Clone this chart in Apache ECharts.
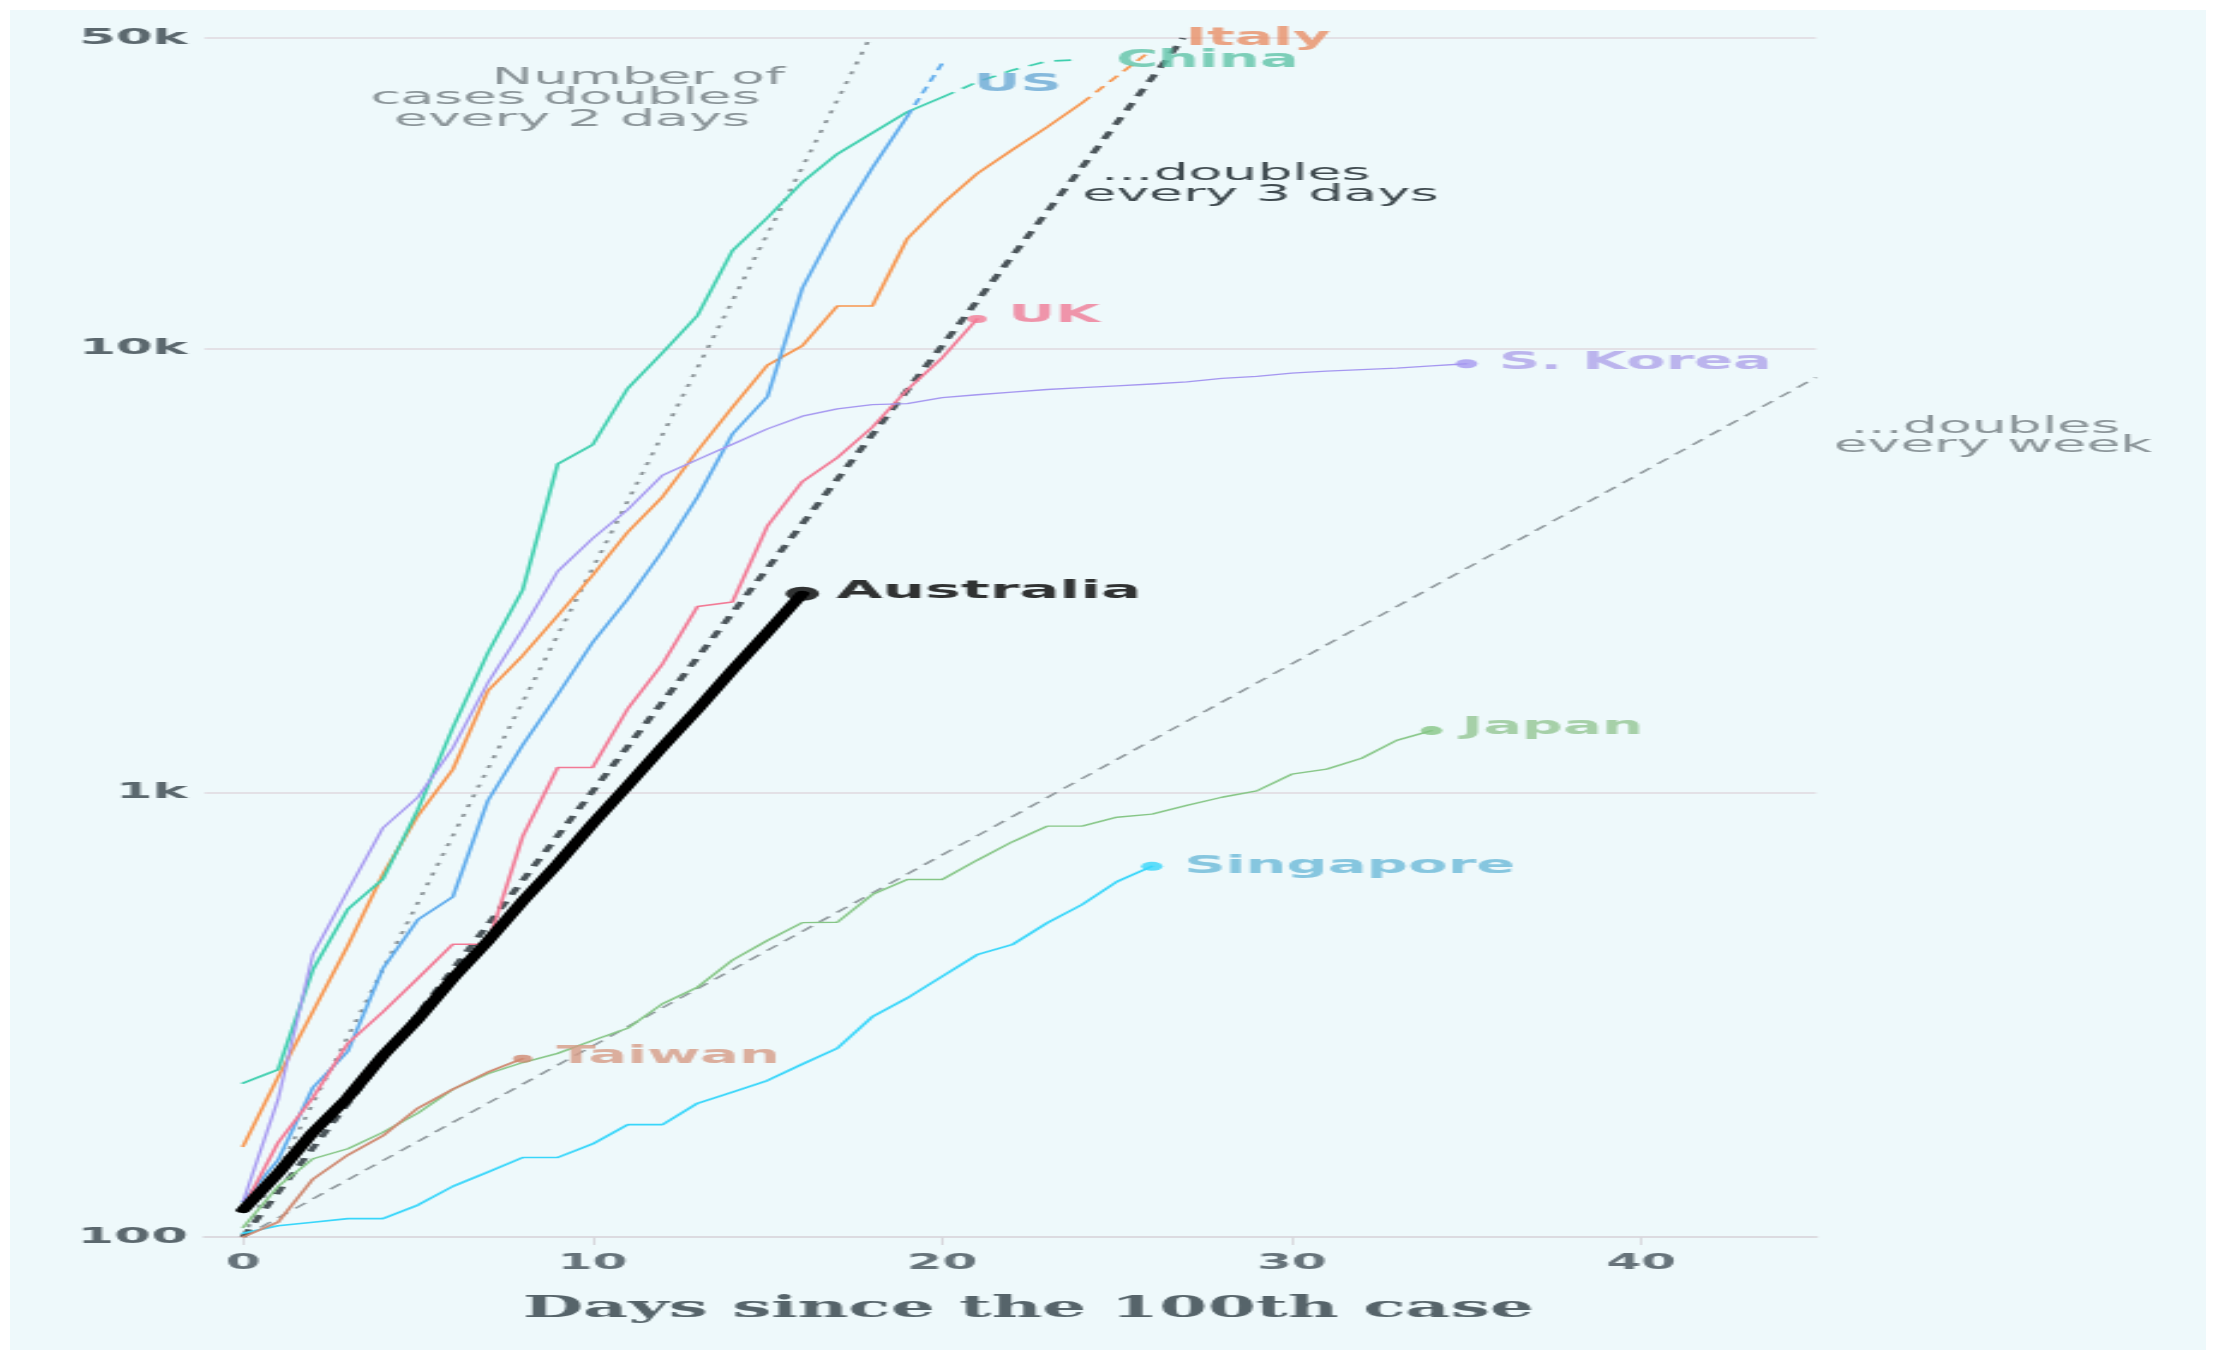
<!DOCTYPE html>
<html>
<head>
<meta charset="utf-8">
<script src="https://cdn.jsdelivr.net/npm/echarts@6/dist/echarts.min.js"></script>
<style>
  html, body { margin: 0; padding: 0; background: #ffffff; width: 2216px; height: 1355px; overflow: hidden; }
  #panel { position: absolute; left: 10px; top: 10px; width: 2196px; height: 1340px; background: #eef9fb; }
  /* the chart is laid out on a narrow canvas and widened to the page width */
  #chart { position: absolute; left: 0; top: 0; width: 923px; height: 1355px;
           transform: scaleX(2.4009); transform-origin: 0 0; }
</style>
</head>
<body>
<div id="panel"></div>
<div id="chart"></div>
<script>
// Confirmed cases, one value per day counted from each country's 100th case
const italy     = [160, 229, 322, 453, 655, 888, 1128, 1694, 2036, 2502, 3089, 3858, 4636, 5883, 7375, 9172, 10149, 12462, 12462, 17660, 21157, 24747, 27980, 31506, 35713, 41035, 47021];
const china     = [222, 238, 400, 547, 639, 916, 1399, 2062, 2863, 5494, 6070, 8124, 9783, 11871, 16607, 19693, 23680, 27409, 30553, 34075, 36778, 39790, 42306, 44327, 44699];
const us        = [120, 149, 217, 262, 402, 518, 583, 959, 1281, 1663, 2179, 2726, 3499, 4632, 6421, 7786, 13680, 19101, 25493, 33276, 43847];
const uk        = [116, 163, 206, 273, 321, 382, 456, 456, 798, 1140, 1140, 1543, 1950, 2626, 2689, 3983, 5018, 5683, 6650, 8077, 9529, 11658];
const sKorea    = [120, 204, 433, 602, 833, 977, 1261, 1766, 2337, 3150, 3736, 4335, 5186, 5621, 6088, 6593, 7041, 7313, 7478, 7513, 7755, 7869, 7979, 8086, 8162, 8236, 8320, 8413, 8565, 8652, 8799, 8897, 8961, 9037, 9137, 9241];
const australia = [115, 139, 172, 206, 256, 309, 382, 463, 570, 692, 852, 1037, 1268, 1540, 1890, 2296, 2805];
const japan     = [105, 130, 150, 158, 172, 190, 215, 233, 247, 259, 277, 295, 335, 365, 420, 465, 510, 511, 590, 638, 638, 705, 775, 841, 841, 881, 895, 937, 977, 1010, 1101, 1130, 1196, 1312, 1380];
const singapore = [102, 106, 108, 110, 110, 118, 130, 140, 151, 151, 162, 179, 179, 200, 212, 225, 245, 266, 313, 345, 386, 432, 455, 509, 560, 631, 683];
const taiwan    = [100, 108, 135, 153, 169, 195, 215, 235, 252];

// Guide lines: cases doubling every 2 days, every 3 days and every week
const doubleEvery2Days = [[0, 100], [17.93, 50000]];
const doubleEvery3Days = [[0, 100], [26.9, 50000]];
const doubleEveryWeek  = [[0, 100], [45, 8612]];

// Axis ticks
const xTicks = [0, 10, 20, 30, 40];
const yMin = 100, yMax = 50000;

const SANS = 'DejaVu Sans';

// Styling per country; solidTo = last day drawn with a solid line
const countries = [
  { name: 'Italy',     data: italy,     solidTo: 24, line: '#f7964f', text: '#e98f66', width: 1.6, dot: 0,  distance: 14, offset: [0, -11], size: 24 },
  { name: 'China',     data: china,     solidTo: 20, line: '#3fcfae', text: '#5fc3a8', width: 1.6, dot: 0,  distance: 14, offset: [0, 1],   size: 24 },
  { name: 'US',        data: us,        solidTo: 19, line: '#5eabec', text: '#6aa9d5', width: 1.6, dot: 0,  distance: 13, offset: [0, 21],  size: 24 },
  { name: 'UK',        data: uk,        line: '#f27a95', text: '#ef7b96', width: 1.6, dot: 8,  distance: 9,  offset: [0, -3], size: 24 },
  { name: 'S. Korea',  data: sKorea,    line: '#a597f0', text: '#aea3ea', width: 1.3, dot: 9,  distance: 9,  offset: [0, -1], size: 24 },
  { name: 'Japan',     data: japan,     line: '#86c686', text: '#93c593', width: 1.4, dot: 9,  distance: 8,  offset: [0, -3], size: 24 },
  { name: 'Singapore', data: singapore, line: '#38d6fa', text: '#6cb9d8', width: 1.6, dot: 9,  distance: 9,  offset: [0, 0],  size: 24 },
  { name: 'Taiwan',    data: taiwan,    line: '#cf8a72', text: '#d69b86', width: 1.6, dot: 8,  distance: 10, offset: [0, -2], size: 24 },
  { name: 'Australia', data: australia, line: '#000000', text: '#000000', width: 6,   dot: 14, distance: 7,  offset: [0, -2], size: 25 }
];

function toPoints(arr, from, to) {
  return arr.slice(from, to + 1).map((v, i) => [from + i, v]);
}

const series = [];

function guide(data, color, width, dash) {
  return {
    type: 'line', data: data, silent: true, showSymbol: false, z: 1,
    lineStyle: { color: color, width: width, type: dash }
  };
}
series.push(guide(doubleEvery2Days, '#8a9397', 1.7, [3, 7]));
series.push(guide(doubleEveryWeek, '#8e979b', 1.4, [7, 5]));
series.push(guide(doubleEvery3Days, '#4b555a', 3, [8, 7]));

countries.forEach(c => {
  const last = c.data.length - 1;
  const solidTo = c.solidTo === undefined ? last : c.solidTo;
  const z = c.name === 'Australia' ? 4 : 2;
  series.push({
    type: 'line', name: c.name, data: toPoints(c.data, 0, solidTo), silent: true,
    showSymbol: false, z: z,
    lineStyle: { color: c.line, width: c.width, join: 'round', cap: 'round' }
  });
  if (solidTo < last) {
    series.push({
      type: 'line', name: c.name + ' (dashed)', data: toPoints(c.data, solidTo, last), silent: true,
      showSymbol: false, z: z,
      lineStyle: { color: c.line, width: c.width, type: [7, 5] }
    });
  }
});

// End points with their country names
series.push({
  type: 'scatter', silent: true, z: 5,
  data: countries.map(c => ({
    name: c.name,
    value: [c.data.length - 1, c.data[c.data.length - 1]],
    symbolSize: c.dot,
    itemStyle: { color: c.line },
    label: {
      show: true, position: 'right', distance: c.distance, offset: c.offset,
      formatter: '{b}', color: c.text, fontFamily: SANS, fontWeight: 'bold', fontSize: c.size
    }
  }))
});

function note(text, x, y, color) {
  return {
    type: 'text', x: x, y: y, silent: true, z: 10,
    style: {
      text: text, fill: color, font: '23px "DejaVu Sans"',
      align: 'center', verticalAlign: 'middle',
      textAlign: 'center', textVerticalAlign: 'middle'
    }
  };
}

const option = {
  animation: false,
  backgroundColor: 'transparent',
  grid: { left: 85.2, right: 166.6, top: 38, bottom: 118 },
  xAxis: {
    type: 'value', min: -1.1, max: 45,
    axisLine: { show: true, lineStyle: { color: '#dcdbe0', width: 2 } },
    axisTick: { show: true, customValues: xTicks, length: 8, lineStyle: { color: '#d8d8dd', width: 1 } },
    axisLabel: { customValues: xTicks, margin: 16, color: '#66737a', fontSize: 21, fontWeight: 'bold', fontFamily: SANS },
    splitLine: { show: false },
    name: 'Days since the 100th case', nameLocation: 'middle', nameGap: 58,
    nameTextStyle: { fontFamily: 'DejaVu Serif', fontWeight: 'bold', fontSize: 29, color: '#56646a', padding: [0, 0, 0, 15] }
  },
  yAxis: {
    type: 'log', logBase: 10, min: yMin, max: yMax,
    axisLine: { show: false }, axisTick: { show: false },
    axisLabel: {
      margin: 7, color: '#5b686e', fontSize: 22, fontWeight: 'bold', fontFamily: SANS,
      formatter: v => { const r = Math.round(v); return r >= 1000 ? Math.round(r / 1000) + 'k' : String(r); }
    },
    splitLine: { show: true, lineStyle: { color: '#e3e1e6', width: 2 } }
  },
  graphic: [
    note('Number of', 265.8, 78, '#8b9599'),
    note('cases doubles', 235.4, 98.5, '#8b9599'),
    note('every 2 days', 238.3, 120, '#8b9599'),
    note('...doubles', 514.6, 174, '#3f4a4f'),
    note('every 3 days', 525, 195.5, '#3f4a4f'),
    note('...doubles', 826.8, 427, '#8b9599'),
    note('every week', 830, 446, '#8b9599')
  ],
  series: series
};

const chart = echarts.init(document.getElementById('chart'), null, { renderer: 'canvas' });
chart.setOption(option);
</script>
</body>
</html>
